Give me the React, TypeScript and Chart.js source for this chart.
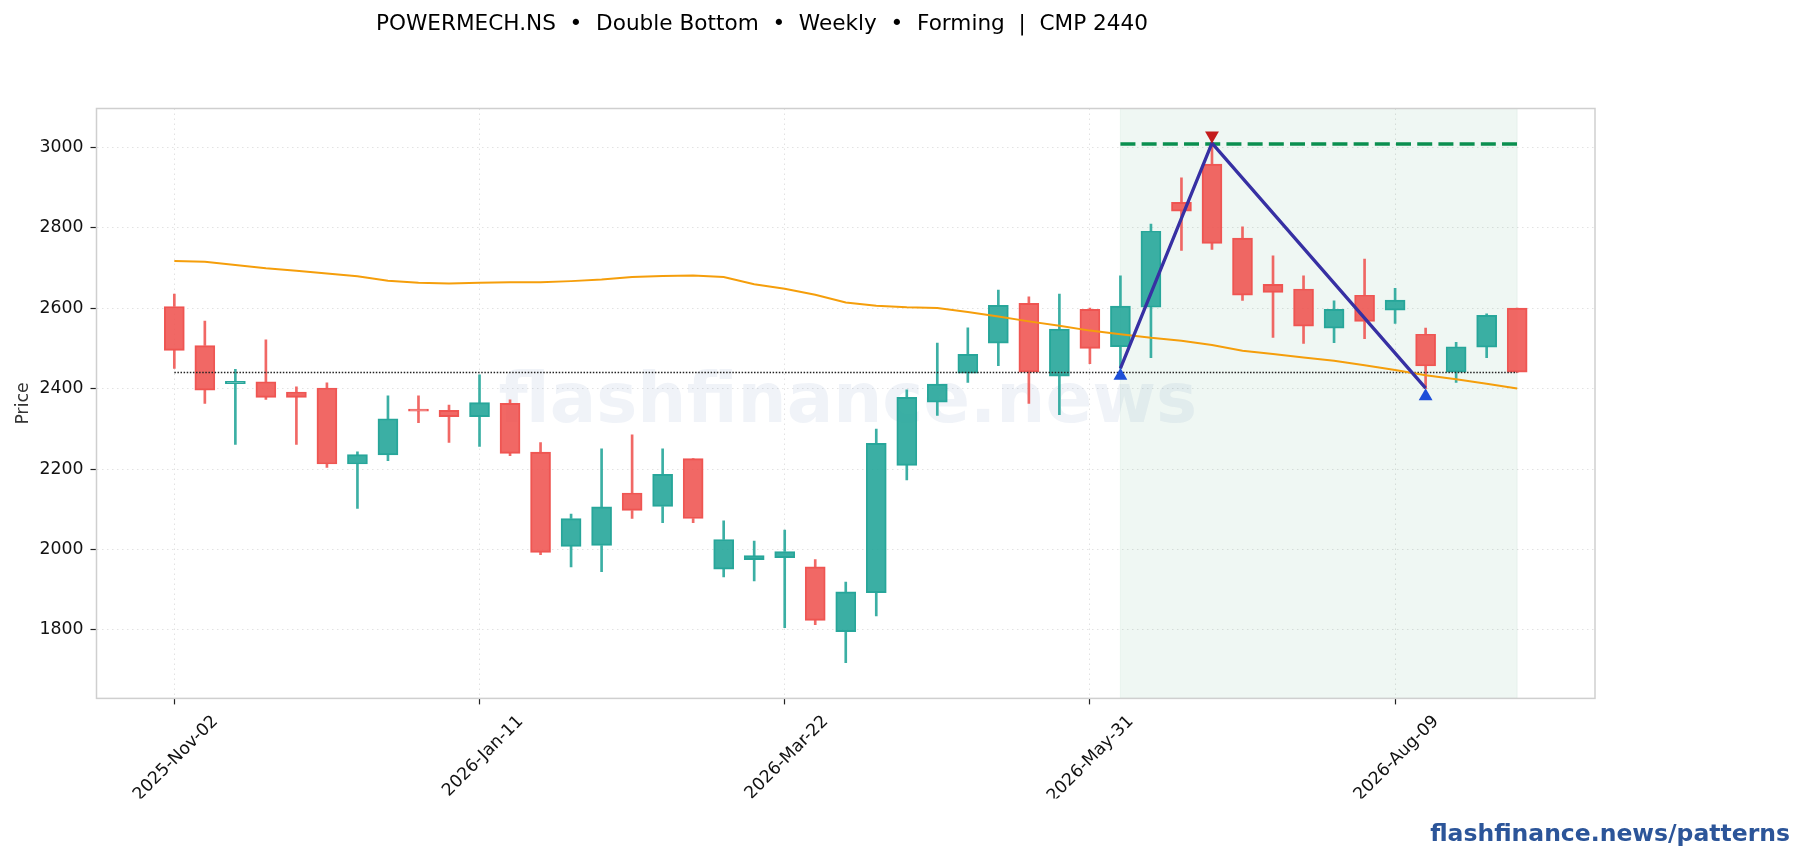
import React, { useEffect, useRef } from "react";
import { Chart, registerables } from "chart.js";

Chart.register(...registerables);

const FONT = "'DejaVu Sans', sans-serif";

const TITLE = "POWERMECH.NS  •  Double Bottom  •  Weekly  •  Forming  |  CMP 2440";
const FOOTER = "flashfinance.news/patterns";
const WATERMARK = "flashfinance.news";

// one label every 10 weeks
const tickDates = ["2025-Nov-02", "2026-Jan-11", "2026-Mar-22", "2026-May-31", "2026-Aug-09"];

const opens = [
    2604, 2507, 2412, 2417, 2391, 2401, 2213, 2235, 2349, 2346, 2330, 2363, 2242, 2008, 2010,
    2140, 2107, 2226, 1951, 1975, 1980, 1957, 1796, 1893, 2209, 2366, 2438, 2513, 2612, 2431,
    2597, 2504, 2602, 2863, 2958, 2774, 2659, 2647, 2550, 2632, 2595, 2535, 2441, 2503, 2600,
];
const closes = [
    2495, 2396, 2418, 2378, 2378, 2213, 2236, 2325, 2344, 2330, 2365, 2239, 1993, 2077, 2106,
    2097, 2187, 2077, 2025, 1985, 1995, 1824, 1895, 2264, 2378, 2411, 2485, 2607, 2441, 2548,
    2500, 2605, 2791, 2841, 2761, 2632, 2639, 2555, 2597, 2567, 2620, 2456, 2504, 2582, 2441,
];
const highs = [
    2635, 2568, 2448, 2521, 2404, 2414, 2243, 2382, 2382, 2359, 2434, 2372, 2266, 2088, 2250,
    2285, 2250, 2226, 2071, 2021, 2048, 1975, 1919, 2299, 2397, 2513, 2551, 2645, 2628, 2635,
    2600, 2680, 2809, 2924, 3010, 2802, 2730, 2680, 2618, 2722, 2649, 2550, 2515, 2586, 2600,
];
const lows = [
    2450, 2363, 2261, 2373, 2261, 2204, 2102, 2221, 2315, 2266, 2256, 2233, 1987, 1957, 1945,
    2077, 2067, 2067, 1932, 1922, 1806, 1813, 1719, 1835, 2173, 2333, 2415, 2457, 2363, 2335,
    2462, 2450, 2477, 2743, 2746, 2619, 2527, 2512, 2514, 2524, 2562, 2400, 2415, 2477, 2440,
];
const ema = [
    2717, 2715, 2707, 2699, 2693, 2686, 2679, 2668, 2663, 2661, 2663, 2664, 2664, 2667, 2671,
    2677, 2680, 2681, 2677, 2659, 2648, 2633, 2614, 2606, 2602, 2600, 2590, 2579, 2567, 2556,
    2544, 2535, 2526, 2519, 2508, 2494, 2486, 2477, 2469, 2458, 2446, 2433, 2423, 2412, 2400,
];

const neckline = 2440;
const target = 3008;
const patternStart = 31;
const patternEnd = 44;
const patternX = [31, 34, 41];
const patternY = [2450, 3010, 2401];
const bottomMarkerX = [31, 41];
const bottomMarkerY = [2432, 2381];
const topMarkerX = [34];
const topMarkerY = [3029];

const RED = "rgba(239,83,80,0.88)";
const GREEN = "rgba(38,166,154,0.9)";
const RED_EDGE = "rgb(239,86,83)";
const GREEN_EDGE = "rgb(40,166,154)";

const xs = opens.map((_, i) => i);
const isUp = (i: number) => closes[i] >= opens[i];
const fills = xs.map((i) => (isUp(i) ? GREEN : RED));
const edges = xs.map((i) => (isUp(i) ? GREEN_EDGE : RED_EDGE));

const decor = {
    id: "decor",
    beforeDatasetsDraw(chart: any) {
        const { ctx, chartArea, scales } = chart;
        const x0 = scales.x.getPixelForValue(patternStart);
        const x1 = scales.x.getPixelForValue(patternEnd);
        const h = chartArea.bottom - chartArea.top;
        ctx.save();
        ctx.fillStyle = "rgba(22,140,80,0.07)";
        ctx.fillRect(x0, chartArea.top, x1 - x0, h);
        ctx.strokeStyle = "rgba(22,140,80,0.05)";
        ctx.lineWidth = 1.2;
        ctx.strokeRect(x0, chartArea.top, x1 - x0, h);
        ctx.fillStyle = "rgba(40,80,150,0.07)";
        ctx.font = `bold 69px ${FONT}`;
        ctx.textAlign = "center";
        ctx.textBaseline = "middle";
        ctx.fillText(WATERMARK, (chartArea.left + chartArea.right) / 2 + 2, 404);
        ctx.restore();
    },
    afterDatasetsDraw(chart: any) {
        const { ctx, chartArea } = chart;
        ctx.save();
        ctx.strokeStyle = "#cfcfcf";
        ctx.lineWidth = 1.5;
        ctx.strokeRect(chartArea.left, chartArea.top, chartArea.right - chartArea.left, chartArea.bottom - chartArea.top);
        ctx.restore();
    },
    afterDraw(chart: any) {
        const { ctx } = chart;
        ctx.save();
        ctx.textBaseline = "middle";
        ctx.fillStyle = "#000";
        ctx.font = `21.6px ${FONT}`;
        ctx.textAlign = "center";
        ctx.fillText(TITLE, 762, 24);
        ctx.fillStyle = "#2c5599";
        ctx.font = `bold 23.5px ${FONT}`;
        ctx.textAlign = "right";
        ctx.fillText(FOOTER, 1790, 835);
        ctx.restore();
    },
};

export default function App() {
    const canvasRef = useRef<HTMLCanvasElement | null>(null);

    useEffect(() => {
        const canvas = canvasRef.current;
        if (!canvas) return;

        const chart = new Chart(canvas, {
            type: "bar",
            data: {
                datasets: [
                    {
                        type: "bar",
                        order: 9,
                        data: xs.map((i) => ({ x: i, y: [Math.max(opens[i], closes[i]), highs[i]] })),
                        backgroundColor: fills,
                        barThickness: 2,
                        barPercentage: 1,
                        grouped: false,
                    },
                    {
                        type: "bar",
                        order: 8,
                        data: xs.map((i) => ({ x: i, y: [lows[i], Math.min(opens[i], closes[i])] })),
                        backgroundColor: fills,
                        barThickness: 2,
                        barPercentage: 1,
                        grouped: false,
                    },
                    {
                        type: "bar",
                        order: 7,
                        data: xs.map((i) => ({ x: i, y: [opens[i], closes[i]] })),
                        backgroundColor: fills,
                        borderColor: edges,
                        borderWidth: 1.3,
                        borderSkipped: false,
                        barThickness: 20,
                        barPercentage: 1,
                        grouped: false,
                    },
                    {
                        type: "line",
                        order: 6,
                        data: [{ x: 0, y: neckline }, { x: 44, y: neckline }],
                        borderColor: "#222",
                        borderWidth: 1.4,
                        borderDash: [1.5, 1.6],
                        pointRadius: 0,
                    },
                    {
                        type: "line",
                        order: 5,
                        data: xs.map((i) => ({ x: i, y: ema[i] })),
                        borderColor: "#f59e0b",
                        borderWidth: 2,
                        pointRadius: 0,
                        tension: 0,
                    },
                    {
                        type: "line",
                        order: 4,
                        data: [{ x: patternStart, y: target }, { x: patternEnd, y: target }],
                        borderColor: "#0a8f4f",
                        borderWidth: 3.5,
                        borderDash: [15, 6.2],
                        pointRadius: 0,
                    },
                    {
                        type: "line",
                        order: 3,
                        data: patternX.map((x, i) => ({ x, y: patternY[i] })),
                        borderColor: "#3730a3",
                        borderWidth: 3.3,
                        pointRadius: 0,
                        tension: 0,
                    },
                    {
                        type: "scatter",
                        order: 2,
                        data: bottomMarkerX.map((x, i) => ({ x, y: bottomMarkerY[i] })),
                        pointStyle: "triangle",
                        pointRadius: 8,
                        backgroundColor: "#1d4ed8",
                        borderColor: "#1d4ed8",
                        borderWidth: 0,
                    },
                    {
                        type: "scatter",
                        order: 1,
                        data: topMarkerX.map((x, i) => ({ x, y: topMarkerY[i] })),
                        pointStyle: "triangle",
                        pointRotation: 180,
                        pointRadius: 8,
                        backgroundColor: "#c41c1c",
                        borderColor: "#c41c1c",
                        borderWidth: 0,
                    },
                ] as any,
            },
            options: {
                responsive: false,
                animation: false,
                devicePixelRatio: 1,
                layout: { padding: { left: 0, top: 108.5, right: 209, bottom: 61.6 } },
                plugins: {
                    legend: { display: false },
                    title: { display: false },
                    tooltip: { enabled: false },
                },
                scales: {
                    x: {
                        type: "linear",
                        offset: false,
                        min: -2.55,
                        max: 46.55,
                        afterFit(scale: any) {
                            scale.height = 100;
                            scale.paddingLeft = 0;
                            scale.paddingRight = 0;
                        },
                        grid: {
                            offset: false,
                            color: "#e2e2e2",
                            lineWidth: 1,
                            tickColor: "#222",
                            tickLength: 6,
                            tickWidth: 1.2,
                        },
                        border: { display: false, dash: [1.5, 3.5] },
                        ticks: {
                            stepSize: 10,
                            autoSkip: false,
                            includeBounds: false,
                            minRotation: 45,
                            maxRotation: 45,
                            labelOffset: 41,
                            padding: 7,
                            color: "#111",
                            font: { family: FONT, size: 17.3 },
                            callback: (value: any) => tickDates[Number(value) / 10] ?? "",
                        },
                    },
                    y: {
                        min: 1630,
                        max: 3096,
                        afterFit(scale: any) {
                            scale.width = 96.5;
                        },
                        grid: {
                            color: "#e2e2e2",
                            lineWidth: 1,
                            tickColor: "#222",
                            tickLength: 6,
                            tickWidth: 1.2,
                        },
                        border: { display: false, dash: [1.5, 3.5] },
                        ticks: {
                            stepSize: 200,
                            includeBounds: false,
                            padding: 7,
                            color: "#111",
                            font: { family: FONT, size: 17.3 },
                            callback: (value: any) => String(value),
                        },
                        title: {
                            display: true,
                            text: "Price",
                            color: "#333",
                            font: { family: FONT, size: 17.3 },
                            padding: { top: 13, bottom: 0 },
                        },
                    },
                },
            },
            plugins: [decor],
        } as any);

        return () => {
            chart.destroy();
        };
    }, []);

    return (
        <div style={{ position: "absolute", left: 0, top: 0, width: 1804, height: 860 }}>
            <canvas ref={canvasRef} width={1804} height={860} />
        </div>
    );
}
